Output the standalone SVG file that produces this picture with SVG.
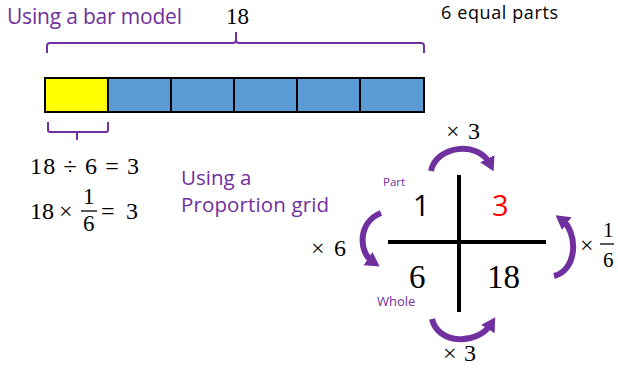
<svg xmlns="http://www.w3.org/2000/svg" width="618" height="369" viewBox="0 0 618 369">
<style>
.p{fill:#7030a0;font-family:"Open Sans",sans-serif}
.s{font-family:"Liberation Serif",serif;fill:#000}
.o{font-family:"Open Sans",sans-serif;fill:#000}
.br{fill:none;stroke:#7030a0;stroke-width:2;stroke-linejoin:round}
.cell{stroke:#000;stroke-width:2}
.ar{fill:none;stroke:#7030a0;stroke-width:6;stroke-linecap:butt}
.gl{stroke:#000;stroke-width:4}
</style>
<defs>
<marker id="ah" markerUnits="userSpaceOnUse" markerWidth="18" markerHeight="18" refX="6" refY="9" orient="auto">
<path d="M0,1 L14,9 L0,17 Z" fill="#7030a0"/>
</marker>
</defs>
<rect width="618" height="369" fill="#fff"/>
<g id="title"><text class="p" x="7" y="24" font-size="21" textLength="175">Using a bar model</text></g>
<g id="total"><text class="s" x="226" y="24" font-size="23">18</text></g>
<g id="parts"><text class="o" x="441" y="19" font-size="18" textLength="117">6 equal parts</text></g>
<g id="brace-top"><path class="br" d="M47,53 V46 Q47,43 50,43 H233 Q236,43 236,40 V32 M236,40 Q236,43 239,43 H421 Q424,43 424,46 V53"/></g>
<g id="bar">
<rect class="cell" x="45" y="78" width="63" height="34" fill="#ffff00"/>
<rect class="cell" x="108" y="78" width="63" height="34" fill="#5b9bd5"/>
<rect class="cell" x="171" y="78" width="63" height="34" fill="#5b9bd5"/>
<rect class="cell" x="234" y="78" width="63" height="34" fill="#5b9bd5"/>
<rect class="cell" x="297" y="78" width="63" height="34" fill="#5b9bd5"/>
<rect class="cell" x="360" y="78" width="64" height="34" fill="#5b9bd5"/>
</g>
<g id="brace-bottom"><path class="br" d="M48,122 V130 Q48,132 50,132 H106 Q108,132 108,130 V122 M77,132 V140"/></g>
<g id="eq1"><text class="s" x="30" y="174" font-size="24" textLength="109">18 ÷ 6 = 3</text></g>
<g id="eq2">
<text class="s" x="30" y="219" font-size="24">18</text>
<text class="s" x="59" y="219" font-size="24">×</text>
<text class="s" x="83" y="204" font-size="23">1</text>
<line x1="81" y1="211" x2="97" y2="211" stroke="#000" stroke-width="1.3"/>
<text class="s" x="83" y="231" font-size="23">6</text>
<text class="s" x="101" y="219" font-size="24">=</text>
<text class="s" x="126" y="219" font-size="24">3</text>
</g>
<g id="grid-title">
<text class="p" x="181" y="185" font-size="20.5">Using a</text>
<text class="p" x="181" y="212" font-size="20.5" textLength="148">Proportion grid</text>
</g>
<g id="grid">
<line class="gl" x1="459" y1="175" x2="459" y2="312"/>
<line class="gl" x1="388" y1="242" x2="546" y2="242"/>
</g>
<g id="cell-1"><text class="o" x="413" y="216" font-size="29">1</text></g>
<g id="cell-3"><text class="o" x="492" y="216" font-size="29" fill="#ff0000" style="fill:#ff0000">3</text></g>
<g id="cell-6"><text class="s" x="409" y="288" font-size="33">6</text></g>
<g id="cell-18"><text class="s" x="487" y="288" font-size="33">18</text></g>
<g id="label-part"><text class="p" x="383" y="186" font-size="11.5">Part</text></g>
<g id="label-whole"><text class="p" x="377" y="306" font-size="13">Whole</text></g>
<g id="connectors">
<path class="ar" d="M431,171 C436,146 478,140 490,164" marker-end="url(#ah)"/>
<path class="ar" d="M381,213 C358,222 358,252 373,262" marker-end="url(#ah)"/>
<path class="ar" d="M554,276 C578,270 578,232 562,220" marker-end="url(#ah)"/>
<path class="ar" d="M432,319 C438,345 478,345 491,324" marker-end="url(#ah)"/>
</g>
<g id="op-top"><text class="s" x="446" y="139" font-size="24" textLength="34">× 3</text></g>
<g id="op-left"><text class="s" x="311" y="256" font-size="24" textLength="35">× 6</text></g>
<g id="op-right">
<text class="s" x="580" y="253" font-size="24">×</text>
<text class="s" x="603" y="237" font-size="21">1</text>
<line x1="600" y1="244" x2="614" y2="244" stroke="#000" stroke-width="1.3"/>
<text class="s" x="603" y="267" font-size="21">6</text>
</g>
<g id="op-bottom"><text class="s" x="443" y="361" font-size="24" textLength="33">× 3</text></g>
</svg>
